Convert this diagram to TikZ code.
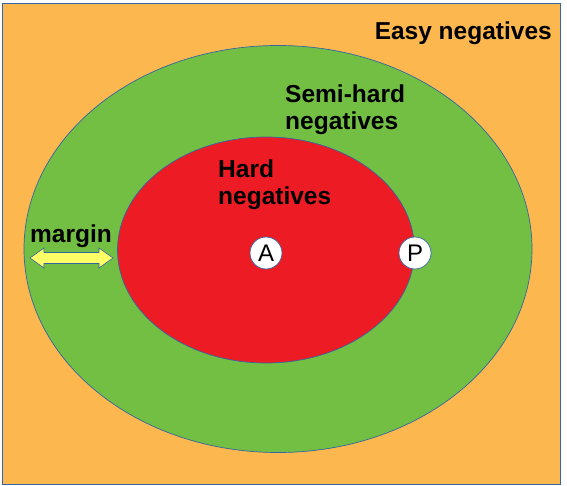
\documentclass[tikz,border=0pt]{standalone}
\usepackage{fontspec}
\setmainfont{Liberation Sans}
\usetikzlibrary{shapes.geometric}
\definecolor{easy}{HTML}{FCB84E}
\definecolor{semi}{HTML}{72BF44}
\definecolor{hard}{HTML}{ED1C24}
\definecolor{arrowyel}{HTML}{FFFF66}
\definecolor{edge}{HTML}{3465A4}
\begin{document}
\begin{tikzpicture}[x=1pt,y=-1pt,
  region/.style={ellipse, draw=edge, line width=0.7pt, inner sep=0pt},
  lbl/.style={font=\fontsize{24.5}{27}\selectfont\bfseries, align=left, inner sep=0pt, text=black},
  pt/.style={circle, draw=edge, fill=white, line width=0.7pt, minimum size=32pt, inner sep=0pt, font=\fontsize{24}{27}\selectfont}]
\useasboundingbox (0,0) rectangle (567,486);
\node[draw=edge, fill=easy, line width=0.8pt, minimum width=558pt, minimum height=481pt, inner sep=0pt, anchor=north west] (easy) at (2,3) {};
\node[region, fill=semi, minimum width=508pt, minimum height=407pt] (semi) at (278,249) {};
\node[region, fill=hard, minimum width=297pt, minimum height=226pt] (hard) at (266,250) {};
\node[lbl, anchor=east] (easyl) at (552,33) {Easy negatives};
\node[lbl, anchor=north west] (semil) at (285,85) {Semi-hard\\negatives};
\node[lbl, anchor=north west] (hardl) at (218,160) {Hard\\negatives};
\node[lbl, anchor=west] (marginl) at (30,236) {margin};
\node[pt] (A) at (266,253) {A};
\node[pt] (P) at (415,253) {P};
\draw[draw=edge, fill=arrowyel, line width=0.6pt]
  (30,258) -- (44,248) -- (44,252.5) -- (99,252.5) -- (99,248) -- (113,258)
  -- (99,268) -- (99,263.5) -- (44,263.5) -- (44,268) -- cycle;
\end{tikzpicture}
\end{document}
